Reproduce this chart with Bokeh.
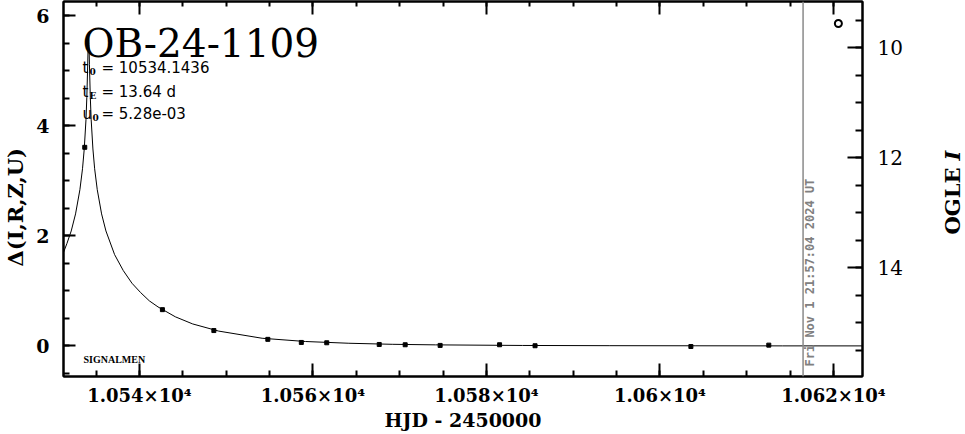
import math
from bokeh.plotting import figure
from bokeh.models import Range1d, LinearAxis, FixedTicker, Label, Span
from bokeh.embed import file_html
from bokeh.resources import INLINE

# ---------------- data ----------------
curve_hjd = [10531.25, 10531.64, 10532.14, 10532.64, 10533.14, 10533.44, 10533.64,
             10533.84, 10533.94, 10534.04, 10534.09, 10534.14, 10534.19, 10534.24,
             10534.34, 10534.44, 10534.64, 10534.84, 10535.14, 10535.64, 10536.14,
             10537.14, 10538.14, 10539.14, 10540.14, 10541.14, 10542.14, 10544.14,
             10546.14, 10549.14, 10554.14, 10559.14, 10564.14, 10569.14, 10574.14,
             10584.14, 10594.14, 10604.14, 10614.14, 10623.34]
curve_delta = [1.70, 1.86, 2.09, 2.40, 2.84, 3.22, 3.58,
               4.11, 4.52, 5.11, 5.48, 5.69, 5.48, 5.11,
               4.52, 4.11, 3.58, 3.22, 2.84, 2.40, 2.09,
               1.66, 1.37, 1.14, 0.97, 0.82, 0.71, 0.53,
               0.40, 0.27, 0.14, 0.081, 0.049, 0.030, 0.020,
               0.009, 0.005, 0.003, 0.0015, 0.001]

obs_hjd = [10533.70, 10542.65, 10548.58, 10554.80, 10558.66, 10561.59, 10567.64,
           10570.63, 10574.66, 10581.51, 10585.60, 10603.56, 10612.54]
obs_delta = [3.61, 0.66, 0.28, 0.12, 0.064, 0.058, 0.027,
             0.022, 0.010, 0.022, 0.004, -0.01, 0.015]

extra_hjd = [10620.56]
extra_delta = [5.86]

now_hjd = 10616.49
now_text = "Fri Nov  1 21:57:04 2024 UT"

title_text = "OB-24-1109"
t0_text = "10534.1436"
tE_text = "13.64 d"
u0_text = "5.28e-03"

x_ticks = [10540, 10560, 10580, 10600, 10620]
x_tick_labels = ["1.054×10⁴", "1.056×10⁴", "1.058×10⁴", "1.06×10⁴", "1.062×10⁴"]
x_minor = [10535, 10540, 10545, 10550, 10555, 10560, 10565, 10570, 10575, 10580,
           10585, 10590, 10595, 10600, 10605, 10610, 10615, 10620]
y_ticks = [0, 2, 4, 6]
y_tick_labels = ["0", "2", "4", "6"]
y_minor = [-0.5, 0, 0.5, 1, 1.5, 2, 2.5, 3, 3.5, 4, 4.5, 5, 5.5, 6]
i_ticks = [10, 12, 14]
i_tick_labels = ["10", "12", "14"]
i_minor = [9.5, 10, 10.5, 11, 11.5, 12, 12.5, 13, 13.5, 14, 14.5, 15, 15.5]
i_base = 15.42

x_title = "HJD - 2450000"
y_title = "Δ(I,R,Z,U)"
y2_title = "OGLE"
y2_title_band = "I"

# ---------------- geometry ----------------
X0, X1 = 10531.25, 10623.34
Y0, Y1 = -0.555, 6.26
W, H = 965, 434
BL, BR, BT, BB = 62, 103, 1, 58
FW = W - BL - BR
FH = H - BT - BB

def px2x(px):
    return X0 + (px - BL) * (X1 - X0) / FW

def px2y(py):
    return Y1 - (py - BT) * (Y1 - Y0) / FH

SERIF = "DejaVu Serif"
SANS = "DejaVu Sans"
NBSP = "\u00a0"

p = figure(width=W, height=H, x_range=Range1d(X0, X1), y_range=Range1d(Y0, Y1),
           output_backend="svg", toolbar_location=None,
           min_border_left=BL, min_border_right=BR, min_border_top=BT, min_border_bottom=BB,
           x_axis_type=None, y_axis_type=None)
p.xgrid.visible = False
p.ygrid.visible = False
p.outline_line_color = "black"
p.outline_line_width = 2
p.background_fill_color = "white"
p.border_fill_color = "white"

p.extra_y_ranges = {"ogle": Range1d(start=i_base - Y0, end=i_base - Y1)}

def style_axis(ax, tin, tmin):
    ax.axis_line_width = 2
    ax.axis_line_color = "black"
    ax.major_tick_in = tin
    ax.major_tick_out = 0
    ax.minor_tick_in = tmin
    ax.minor_tick_out = 0
    ax.major_tick_line_width = 2
    ax.minor_tick_line_width = 2
    ax.major_tick_line_color = "black"
    ax.minor_tick_line_color = "black"

# bottom axis
xb = LinearAxis(ticker=FixedTicker(ticks=x_ticks, minor_ticks=x_minor))
style_axis(xb, 13, 6)
xb.major_label_overrides = {t: l for t, l in zip(x_ticks, x_tick_labels)}
xb.major_label_text_font = SERIF
xb.major_label_text_font_style = "bold"
xb.major_label_text_font_size = "18px"
xb.major_label_text_color = "black"
xb.major_label_standoff = 8
xb.axis_label = x_title
xb.axis_label_text_font = SERIF
xb.axis_label_text_font_style = "bold"
xb.axis_label_text_font_size = "19px"
xb.axis_label_text_color = "black"
xb.axis_label_standoff = 0
p.add_layout(xb, "below")

# top axis (ticks only)
xt = LinearAxis(ticker=FixedTicker(ticks=x_ticks, minor_ticks=x_minor))
style_axis(xt, 13, 5)
xt.major_label_overrides = {t: "" for t in x_ticks}
xt.major_label_text_font_size = "0px"
xt.major_label_standoff = 0
p.add_layout(xt, "above")

# left axis
yl = LinearAxis(ticker=FixedTicker(ticks=y_ticks, minor_ticks=y_minor))
style_axis(yl, 12, 6)
yl.major_label_overrides = {t: l for t, l in zip(y_ticks, y_tick_labels)}
yl.major_label_text_font = SERIF
yl.major_label_text_font_style = "bold"
yl.major_label_text_font_size = "19px"
yl.major_label_text_color = "black"
yl.major_label_standoff = 14
yl.axis_label = y_title + NBSP * 5
yl.axis_label_text_font = SERIF
yl.axis_label_text_font_style = "bold"
yl.axis_label_text_font_size = "21px"
yl.axis_label_text_color = "black"
yl.axis_label_standoff = 5
p.add_layout(yl, "left")

# right axis (OGLE I)
yr = LinearAxis(y_range_name="ogle", ticker=FixedTicker(ticks=i_ticks, minor_ticks=i_minor))
style_axis(yr, 15, 7)
yr.major_label_overrides = {t: l for t, l in zip(i_ticks, i_tick_labels)}
yr.major_label_text_font = SERIF
yr.major_label_text_font_size = "20px"
yr.major_label_text_color = "black"
yr.major_label_standoff = 15
p.add_layout(yr, "right")

# right-side title placed in the right panel (outside the frame)
p.add_layout(Label(x=px2x(952), y=px2y(234), text=y2_title, angle=math.pi / 2, text_font=SERIF,
                   text_font_style="bold", text_font_size="21px", text_color="black",
                   text_align="left", text_baseline="middle"), "right")
p.add_layout(Label(x=px2x(952), y=px2y(160), text=y2_title_band, angle=math.pi / 2, text_font=SERIF,
                   text_font_style="bold italic", text_font_size="21px", text_color="black",
                   text_align="left", text_baseline="middle"), "right")

# curve and points
p.line(x=curve_hjd, y=curve_delta, line_color="black", line_width=1)
p.scatter(x=obs_hjd, y=obs_delta, marker="square", size=4, color="black")
p.scatter(x=extra_hjd, y=extra_delta, marker="circle", size=7, fill_color=None,
          line_color="black", line_width=2)

# now line
p.add_layout(Span(location=now_hjd, dimension="height", line_color="#8a8a8a", line_width=1.5))
p.add_layout(Label(x=px2x(809), y=px2y(366), text=now_text, angle=math.pi / 2,
                   text_font="DejaVu Sans Mono", text_font_style="bold", text_font_size="12px",
                   text_color="#808080", text_align="left", text_baseline="middle"))

# title and parameters
p.add_layout(Label(x=px2x(81), y=px2y(43), text=title_text, text_font=SERIF,
                   text_font_size="39px", text_color="black",
                   text_align="left", text_baseline="alphabetic"))

rows = [(67, "t", "0", t0_text, 88), (91, "t", "E", tE_text, 88), (113, "u", "0", u0_text, 91)]
for base, sym, sub, val, subx in rows:
    p.add_layout(Label(x=px2x(81), y=px2y(base), text=sym, text_font=SANS,
                       text_font_size="15px", text_color="black",
                       text_align="left", text_baseline="alphabetic"))
    p.add_layout(Label(x=px2x(subx), y=px2y(base + 4), text=sub, text_font=SERIF,
                       text_font_style="bold", text_font_size="9px", text_color="black",
                       text_align="left", text_baseline="alphabetic"))
    p.add_layout(Label(x=px2x(100), y=px2y(base), text="= " + val, text_font=SANS,
                       text_font_size="15px", text_color="black",
                       text_align="left", text_baseline="alphabetic"))

p.add_layout(Label(x=px2x(82), y=px2y(359), text="SIGNALMEN", text_font="Liberation Serif",
                   text_font_style="bold", text_font_size="10px", text_color="black",
                   text_align="left", text_baseline="alphabetic"))

open("out.html", "w").write(file_html(p, INLINE))
